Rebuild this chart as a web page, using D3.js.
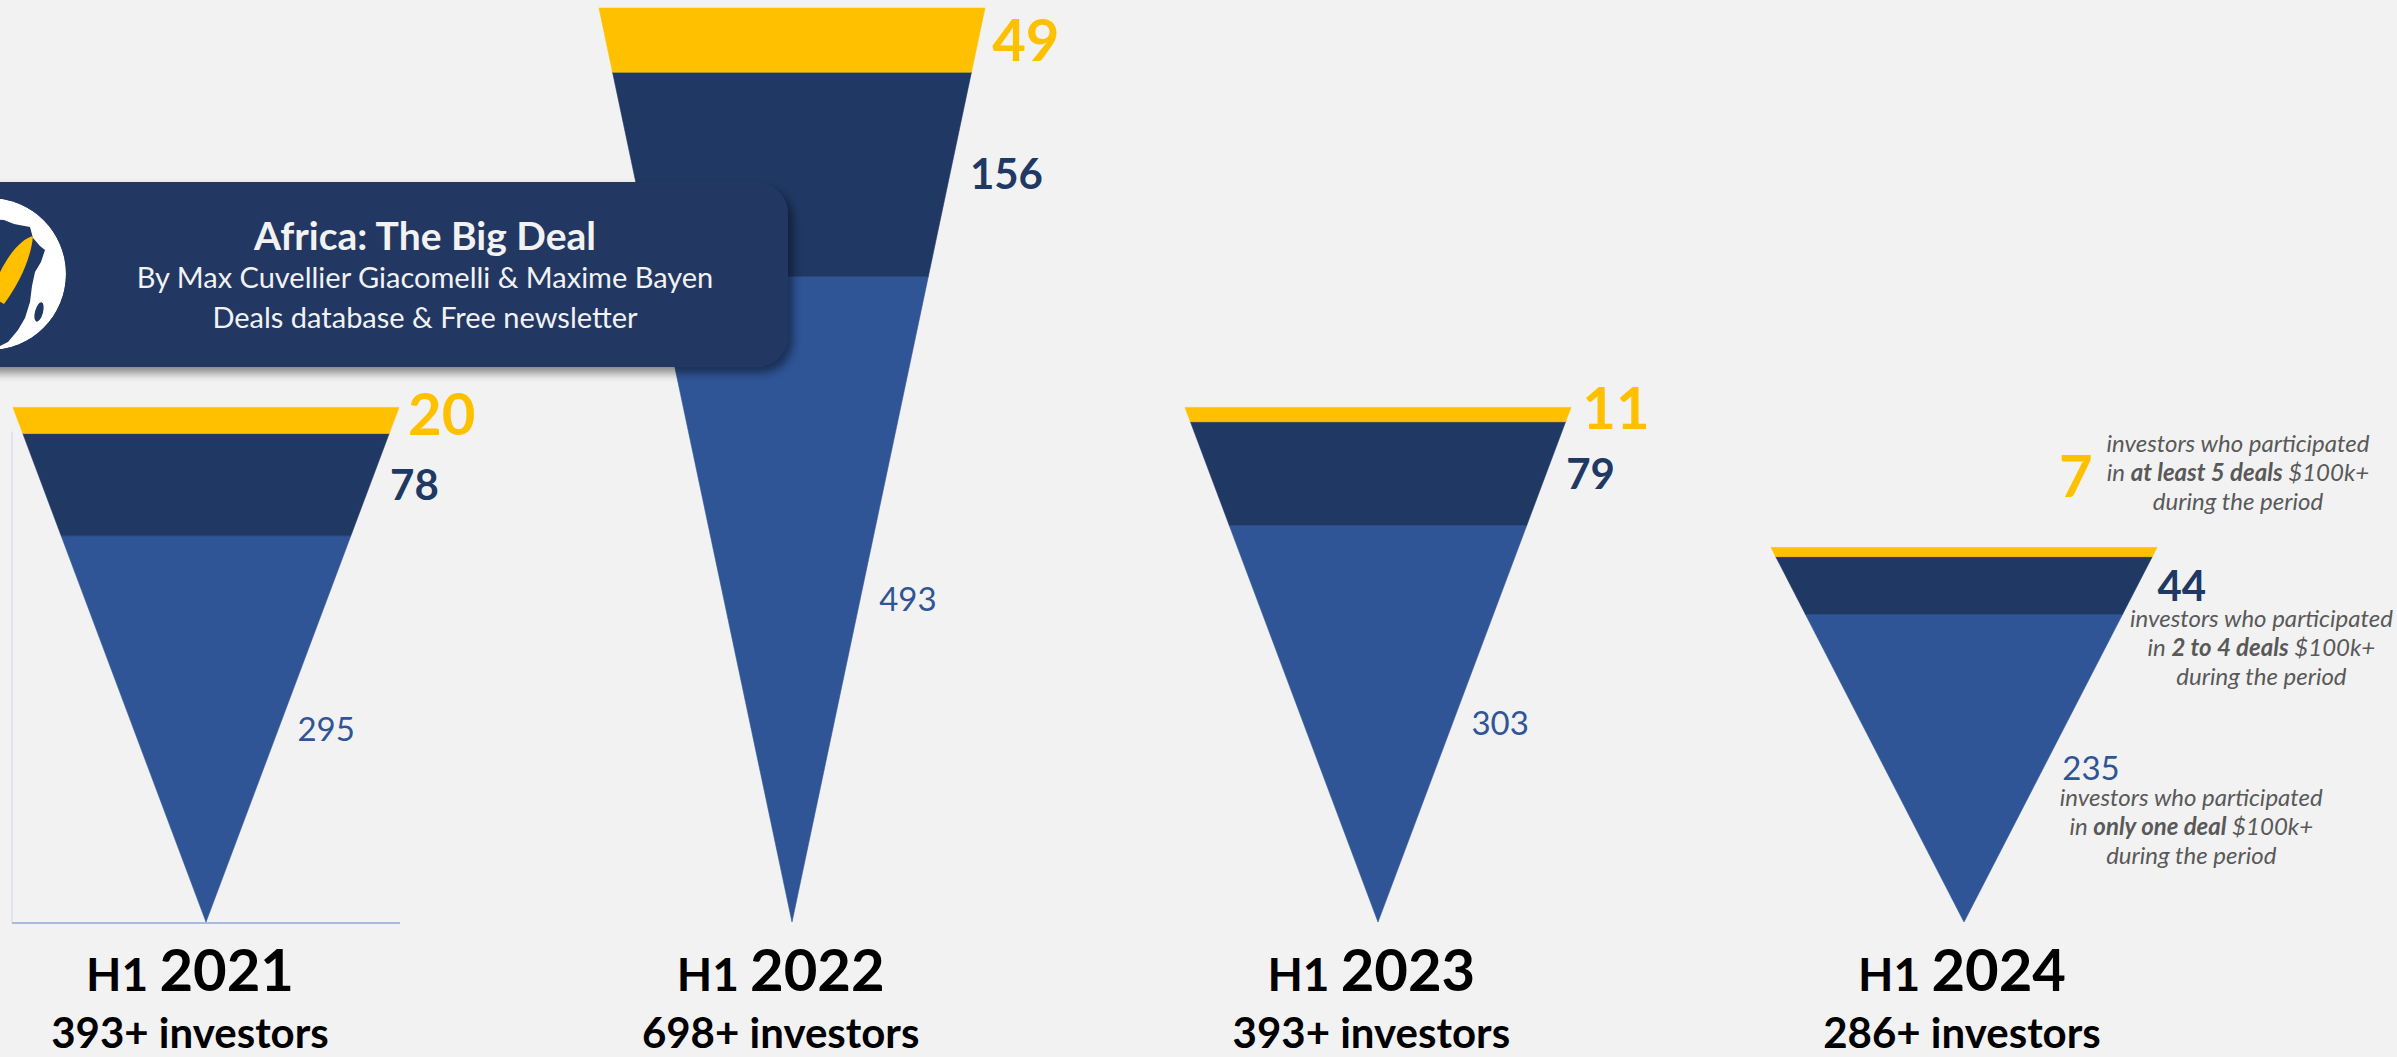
<!DOCTYPE html>
<html>
<head>
<meta charset="utf-8">
<script src="https://cdn.jsdelivr.net/npm/d3@7"></script>
<style>
  body { margin: 0; background: #f2f2f2; overflow: hidden; }
  svg { display: block; font-family: "Lato", "Open Sans", sans-serif; }
</style>
</head>
<body>
<div id="chart"></div>
<script>
// values
const periods = ["2021", "2022", "2023", "2024"];
const onlyOneDeal = [295, 493, 303, 235];
const twoToFourDeals = [78, 156, 79, 44];
const atLeastFiveDeals = [20, 49, 11, 7];
const totalLabels = ["393+ investors", "698+ investors", "393+ investors", "286+ investors"];
const periodPrefix = "H1";
const bandKeys = ["onlyOne", "twoToFour", "atLeastFive"];
const bandColors = ["#2f5597", "#203864", "#ffc000"];
const noteBold = ["only one deal", "2 to 4 deals", "at least 5 deals"];
const headerLines = ["Africa: The Big Deal", "By Max Cuvellier Giacomelli & Maxime Bayen", "Deals database & Free newsletter"];

class FunnelChart {
	constructor(_data){
		this.width = 2397;
		this.height = 1057;
		this.halfTop = 193;
		this.data = _data;
		this.initVis();
	}

	initVis() {
		let vis = this;

		vis.svg = d3.select("#chart").append("svg")
			.attr("width", vis.width)
			.attr("height", vis.height);

		vis.svg.append("rect")
			.attr("width", vis.width).attr("height", vis.height)
			.attr("fill", "#f2f2f2");

		// one scale for the funnels, one for the period captions (they sit a little left)
		vis.xScale = d3.scalePoint().domain(periods).range([206, 1964]);
		vis.xCaption = d3.scalePoint().domain(periods).range([190, 1962]);
		vis.yScale = d3.scaleLinear()
			.domain([0, d3.max(vis.data, d => d.total)])
			.range([922, 8]);

		let defs = vis.svg.append("defs");
		let f = defs.append("filter").attr("id", "shadow")
			.attr("x", "-10%").attr("y", "-20%").attr("width", "130%").attr("height", "150%");
		f.append("feDropShadow")
			.attr("dx", 5).attr("dy", 6).attr("stdDeviation", 5)
			.attr("flood-color", "#000").attr("flood-opacity", 0.45);
		defs.append("clipPath").attr("id", "logoClip")
			.append("circle").attr("cx", -10).attr("cy", 274).attr("r", 76);

		vis.axisG = vis.svg.append("g");
		vis.funnelG = vis.svg.append("g");
		vis.labelG = vis.svg.append("g");
		vis.captionG = vis.svg.append("g");
		vis.headerG = vis.svg.append("g");

		vis.updateVis();
	}

	updateVis(){
		let vis = this;
		vis.stack = d3.stack().keys(bandKeys)(vis.data);
		vis.renderVis();
	}

	renderVis(){
		let vis = this;
		let y = vis.yScale;
		let line = d3.line();

		// plot frame of the first chart (left + bottom)
		let first = vis.data[0];
		let x0 = vis.xScale(first.period) - vis.halfTop - 1;
		vis.axisG.append("line")
			.attr("x1", x0).attr("x2", x0)
			.attr("y1", y(first.onlyOne + first.twoToFour) - 2).attr("y2", y(0) + 1)
			.attr("stroke", "#d3dbec").attr("stroke-width", 1.2);
		vis.axisG.append("line")
			.attr("x1", x0).attr("x2", x0 + 2 * vis.halfTop + 2)
			.attr("y1", y(0) + 1).attr("y2", y(0) + 1)
			.attr("stroke", "#8ea9db").attr("stroke-width", 1.5);

		vis.stack.forEach(function(layer, k){
			layer.forEach(function(seg){
				let d = seg.data;
				let cx = vis.xScale(d.period);
				let hw = d3.scaleLinear().domain([0, d.total]).range([0, vis.halfTop]);
				let v0 = seg[0], v1 = seg[1];
				let pts = [[cx - hw(v1), y(v1)], [cx + hw(v1), y(v1)], [cx + hw(v0), y(v0)], [cx - hw(v0), y(v0)]];
				vis.funnelG.append("path")
					.attr("d", line(pts) + "Z")
					.attr("fill", bandColors[k])
					.attr("stroke", bandColors[k]).attr("stroke-width", 0.6);

				// value label next to the band
				let mid = (v0 + v1) / 2;
				let lx = cx + hw(mid);
				let ly = y(mid);
				let isLast = d.period === periods[periods.length - 1];
				let lab = vis.labelG.append("text").text(seg[1] - seg[0]).attr("dy", "0.36em");
				if (k === 2) {
					let bandH = y(v0) - y(v1);
					lab.attr("x", lx + 14).attr("y", bandH < 40 ? ly - 6 : ly)
						.attr("font-size", 58).attr("font-weight", 700).attr("fill", "#ffc000");
					if (isLast) {
						// the annotated funnel keeps the small top label up above its note
						let cornerX = cx + vis.halfTop, topY = y(v1);
						lab.attr("x", cornerX - 98).attr("y", topY - 71);
						vis.drawNote(cornerX + 81, topY - 95, k);
					}
				} else if (k === 1) {
					lab.attr("x", lx + 20).attr("y", ly)
						.attr("font-size", 42).attr("font-weight", 700).attr("fill", "#203864");
					if (isLast) vis.drawNote(lx + 20 + 104, ly + 42, k);
				} else {
					lab.attr("x", lx + 19).attr("y", ly)
						.attr("font-size", 33).attr("font-weight", 400).attr("fill", "#2f5597");
					if (isLast) vis.drawNote(lx + 25 + 123, ly + 38, k);
				}
			});
		});

		// period captions under each funnel
		vis.data.forEach(function(d){
			let t = vis.captionG.append("text")
				.attr("x", vis.xCaption(d.period)).attr("y", 991)
				.attr("text-anchor", "middle").attr("font-weight", 700).attr("fill", "#000");
			t.append("tspan").attr("font-size", 46).text(periodPrefix + " ");
			t.append("tspan").attr("font-size", 58).text(d.period);
			vis.captionG.append("text")
				.attr("x", vis.xCaption(d.period)).attr("y", 1048)
				.attr("text-anchor", "middle").attr("font-weight", 700)
				.attr("font-size", 42).attr("fill", "#000")
				.text(d.totalLabel);
		});

		vis.drawHeader();
	}

	drawNote(cx, baseY, k){
		let vis = this;
		let g = vis.labelG.append("g")
			.attr("font-size", 24).attr("font-style", "italic").attr("fill", "#595959")
			.attr("text-anchor", "middle");
		g.append("text").attr("x", cx).attr("y", baseY).text("investors who participated");
		let t = g.append("text").attr("x", cx).attr("y", baseY + 29);
		t.append("tspan").text("in ");
		t.append("tspan").attr("font-weight", 700).text(noteBold[k]);
		t.append("tspan").text(" $100k+");
		g.append("text").attr("x", cx).attr("y", baseY + 58).text("during the period");
	}

	drawHeader(){
		let vis = this;
		let g = vis.headerG;
		g.append("rect")
			.attr("x", -40).attr("y", 182).attr("width", 828).attr("height", 185)
			.attr("rx", 32).attr("fill", "#203864")
			.attr("filter", "url(#shadow)");

		// logo: white globe with Africa and a yellow rocket
		let logo = g.append("g").attr("clip-path", "url(#logoClip)");
		logo.append("circle").attr("cx", -10).attr("cy", 274).attr("r", 76).attr("fill", "#ffffff");
		logo.append("path")
			.attr("d", "M-70,214 L4,220 L14,224 L30,227 L33,238 L40,246 L45,250 L41,262 L35,272 L32,286 L30,302 L25,318 L18,330 L8,342 L-4,348 L-30,338 L-60,312 Z")
			.attr("fill", "#203864");
		logo.append("ellipse").attr("cx", 39).attr("cy", 312).attr("rx", 4).attr("ry", 10)
			.attr("transform", "rotate(15,39,312)").attr("fill", "#203864");
		logo.append("path")
			.attr("d", "M33,236 C18,240 2,262 -10,296 L4,304 C20,282 31,258 33,236 Z")
			.attr("fill", "#ffc000");

		g.selectAll("text.head")
			.data(headerLines)
			.join("text")
			.attr("class", "head")
			.attr("x", 425)
			.attr("y", (d, i) => [250, 288, 328][i])
			.attr("text-anchor", "middle")
			.attr("fill", "#f2f2f2")
			.attr("font-size", (d, i) => i === 0 ? 39 : 29)
			.attr("font-weight", (d, i) => i === 0 ? 700 : 400)
			.text(d => d);
	}
}

let table = periods.map(function(p, i){
	return {
		period: p,
		onlyOne: onlyOneDeal[i],
		twoToFour: twoToFourDeals[i],
		atLeastFive: atLeastFiveDeals[i],
		total: onlyOneDeal[i] + twoToFourDeals[i] + atLeastFiveDeals[i],
		totalLabel: totalLabels[i]
	};
});

new FunnelChart(table);
</script>
</body>
</html>
